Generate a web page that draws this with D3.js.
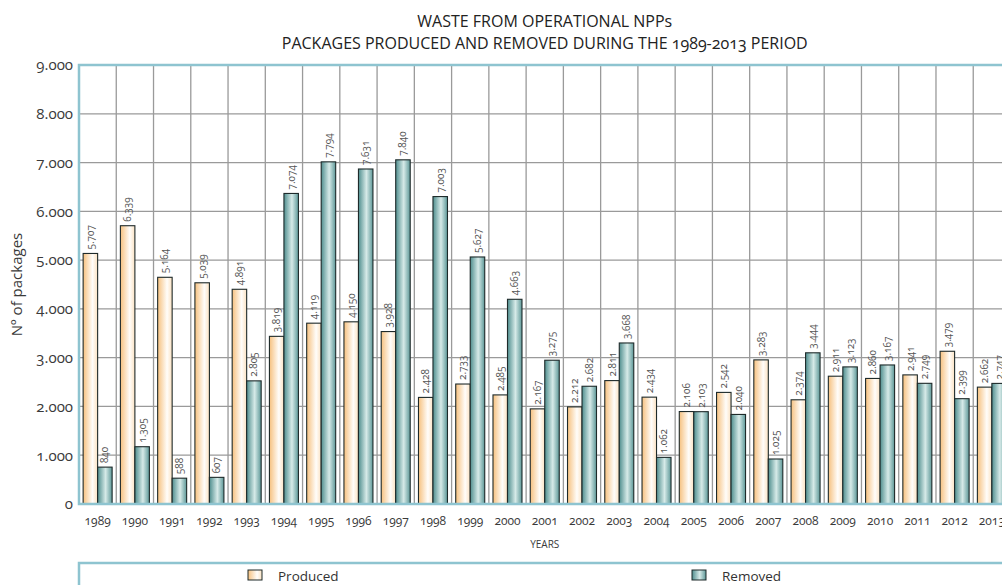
<!DOCTYPE html>
<html>
<head>
<meta charset="utf-8">
<script src="https://cdn.jsdelivr.net/npm/d3@7"></script>
<style>
  body { margin: 0; background: #fff; }
  svg { display: block; font-family: 'Open Sans', sans-serif; font-variant-numeric: oldstyle-nums; }
</style>
</head>
<body>
<svg id="chart"></svg>
<script>
// data
const years = ['1989','1990','1991','1992','1993','1994','1995','1996','1997','1998','1999','2000',
  '2001','2002','2003','2004','2005','2006','2007','2008','2009','2010','2011','2012','2013'];
const produced = [5707, 6339, 5164, 5039, 4891, 3819, 4119, 4150, 3928, 2428, 2733, 2485,
  2167, 2212, 2811, 2434, 2106, 2542, 3283, 2374, 2911, 2860, 2941, 3479, 2662];
const removed = [840, 1305, 588, 607, 2805, 7074, 7794, 7631, 7840, 7003, 5627, 4663,
  3275, 2682, 3668, 1062, 2103, 2040, 1025, 3444, 3123, 3167, 2749, 2399, 2747];
const seriesNames = ['Produced', 'Removed'];
const yTickValues = [0, 1000, 2000, 3000, 4000, 5000, 6000, 7000, 8000, 9000];

const width = 1002, height = 585;
const margin = { top: 65, left: 79, bottom: 81 };
const step = 37.26;
const plotRight = margin.left + step * years.length;
const plotBottom = height - margin.bottom;
const midX = (margin.left + plotRight) / 2;

const svg = d3.select('#chart').attr('width', width).attr('height', height);

const locale = d3.formatLocale({ decimal: ',', thousands: '.', grouping: [3], currency: ['', ''] });
const fmt = locale.format(',d');

// gradients
const defs = svg.append('defs');
const gProd = defs.append('linearGradient').attr('id', 'gProd');
[['0%', '#f6c17f'], ['65%', '#fffdfa'], ['100%', '#fbe2c2']].forEach(([o, c]) =>
  gProd.append('stop').attr('offset', o).attr('stop-color', c));
const gRem = defs.append('linearGradient').attr('id', 'gRem');
[['0%', '#4f8e8e'], ['55%', '#d6eae8'], ['100%', '#5d9898']].forEach(([o, c]) =>
  gRem.append('stop').attr('offset', o).attr('stop-color', c));
const fills = ['url(#gProd)', 'url(#gRem)'];

// scales: bars are drawn on 0-10000 while the axis is labelled 0-9000 (as in the original)
const x = d3.scaleBand().domain(years).range([margin.left, plotRight]);
const xSub = d3.scaleBand().domain(seriesNames).range([0, x.bandwidth()]).paddingOuter(0.285);
const yBar = d3.scaleLinear().domain([0, 10000]).range([plotBottom, margin.top]);
const yAxis = d3.scaleLinear().domain([0, 9000]).range([plotBottom, margin.top]);

// title
const title = svg.append('text').attr('text-anchor', 'middle').attr('fill', '#222').style('font-size', '16px');
title.append('tspan').attr('x', midX).attr('y', 27).text('WASTE FROM OPERATIONAL NPPs');
title.append('tspan').attr('x', midX).attr('y', 49).text('PACKAGES PRODUCED AND REMOVED DURING THE 1989-2013 PERIOD');

// grid
const grid = svg.append('g');
grid.selectAll('line.h').data(yTickValues.slice(1)).join('line')
  .attr('x1', margin.left).attr('x2', plotRight)
  .attr('y1', d => yAxis(d)).attr('y2', d => yAxis(d))
  .attr('stroke', '#9a9a9a').attr('stroke-width', 1.3);
grid.selectAll('line.v').data(years.slice(1)).join('line')
  .attr('x1', d => x(d)).attr('x2', d => x(d))
  .attr('y1', margin.top).attr('y2', plotBottom)
  .attr('stroke', '#9a9a9a').attr('stroke-width', 1.3);

// y axis labels
const yAx = svg.append('g').attr('transform', `translate(${margin.left},0)`)
  .call(d3.axisLeft(yAxis).tickValues(yTickValues).tickFormat(fmt).tickSize(0).tickPadding(6));
yAx.select('.domain').remove();
yAx.selectAll('text').attr('fill', '#3a3a3a').style('font-size', '15px').style('font-family', "'Open Sans', sans-serif");

// x axis labels
const xAx = svg.append('g').attr('transform', `translate(0,${plotBottom})`)
  .call(d3.axisBottom(x).tickSize(0).tickPadding(12));
xAx.select('.domain').remove();
xAx.selectAll('text').attr('fill', '#3a3a3a').style('font-size', '12px').style('font-family', "'Open Sans', sans-serif");

// bars
const rows = years.map((y, i) => ({ year: y, values: [produced[i], removed[i]] }));
const groups = svg.append('g').selectAll('g').data(rows).join('g')
  .attr('transform', d => `translate(${x(d.year)},0)`);
groups.selectAll('rect').data(d => d.values.map((v, k) => ({ key: seriesNames[k], k, v }))).join('rect')
  .attr('x', d => xSub(d.key)).attr('width', xSub.bandwidth())
  .attr('y', d => yBar(d.v)).attr('height', d => plotBottom - yBar(d.v))
  .attr('fill', d => fills[d.k]).attr('stroke', '#1e2a2a').attr('stroke-width', 1.1);
groups.selectAll('text').data(d => d.values.map((v, k) => ({ key: seriesNames[k], v }))).join('text')
  .attr('transform', d => `translate(${xSub(d.key) + xSub.bandwidth() / 2 + 3.5},${yBar(d.v) - 4}) rotate(-90)`)
  .attr('fill', '#555').style('font-size', '10px')
  .text(d => fmt(d.v));

// frame
const frameColor = '#8ec4d0';
svg.append('path')
  .attr('d', `M${plotRight + 5},${margin.top}H${margin.left}V${plotBottom}H${plotRight + 5}`)
  .attr('fill', 'none').attr('stroke', frameColor).attr('stroke-width', 2.5);

// axis titles
svg.append('text').attr('transform', `translate(22,${(margin.top + plotBottom) / 2}) rotate(-90)`)
  .attr('text-anchor', 'middle').attr('fill', '#3a3a3a').style('font-size', '15px').text('Nº of packages');
svg.append('text').attr('x', midX).attr('y', 548)
  .attr('text-anchor', 'middle').attr('fill', '#3a3a3a').style('font-size', '10px').text('YEARS');

// legend
svg.append('rect').attr('x', margin.left).attr('y', 563).attr('width', plotRight).attr('height', 40)
  .attr('fill', 'none').attr('stroke', frameColor).attr('stroke-width', 2.5);
const legendX = [248, 692];
const lg = svg.append('g').selectAll('g').data(seriesNames).join('g')
  .attr('transform', (d, i) => `translate(${legendX[i]},570)`);
lg.append('rect').attr('width', 14).attr('height', 10)
  .attr('fill', (d, i) => fills[i]).attr('stroke', '#1e2a2a').attr('stroke-width', 1);
lg.append('text').attr('x', 30).attr('y', 11).attr('fill', '#333').style('font-size', '13.5px').text(d => d);
</script>
</body>
</html>
